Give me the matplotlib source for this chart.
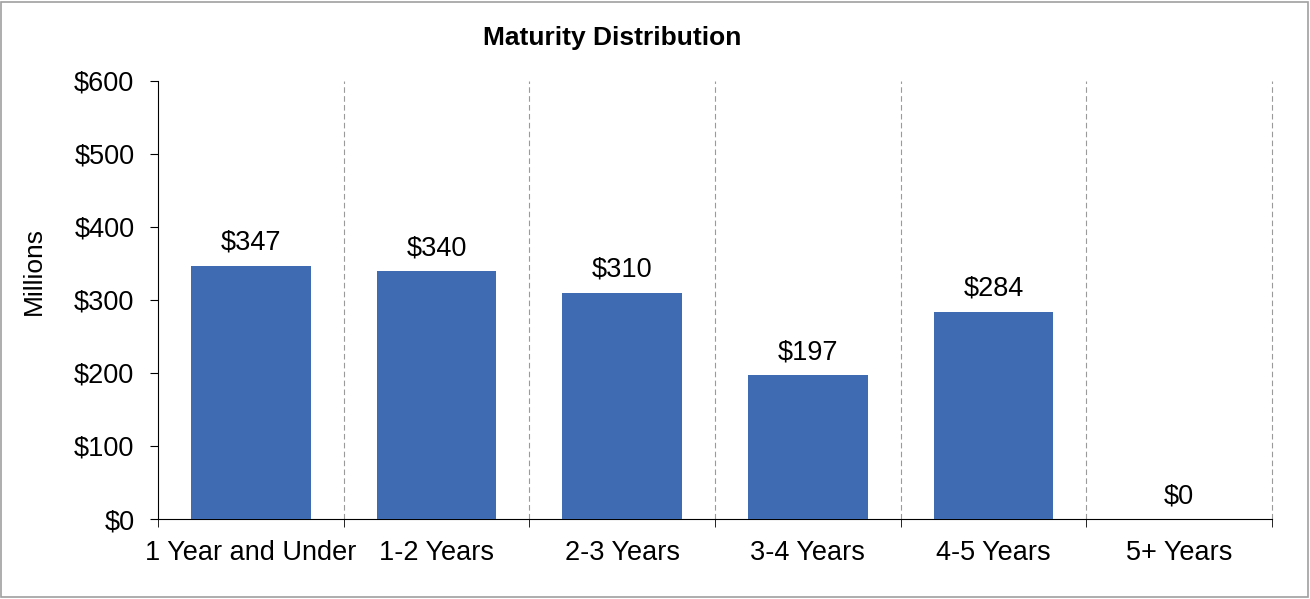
import matplotlib
matplotlib.use("Agg")
import matplotlib.pyplot as plt
from matplotlib.patches import Rectangle

categories = ["1 Year and Under", "1-2 Years", "2-3 Years", "3-4 Years", "4-5 Years", "5+ Years"]
values = [347, 340, 310, 197, 284, 0]
yticks = [0, 100, 200, 300, 400, 500, 600]

plt.rcParams['font.family'] = ['Liberation Sans', 'DejaVu Sans']

fig = plt.figure(figsize=(13.1, 5.99), dpi=100)
ax = fig.add_axes([158/1310, 1-519/599, (1272-158)/1310, (519-81)/599])

x = list(range(len(categories)))
ax.bar(x, values, width=0.645, color="#3F6BB3", zorder=3)
for xi, v in zip(x, values):
    ax.annotate(f"${v}", (xi, v), xytext=(0, 7), textcoords="offset points",
                ha="center", va="bottom", fontsize=19.5, color="black")

ax.set_xlim(-0.5, len(categories) - 0.5)
ax.set_ylim(0, 600)
ax.set_yticks(yticks)
ax.set_yticklabels([f"${t}" for t in yticks], fontsize=19.5)
ax.set_xticks(x)
ax.set_xticklabels(categories, fontsize=19.5)
ax.tick_params(axis='x', length=0, pad=15)
ax.set_xticks([i - 0.5 for i in range(len(categories) + 1)], minor=True)
ax.tick_params(axis='x', which='minor', length=6, direction='out', color='black')
ax.tick_params(axis='y', length=6, direction='out', pad=11)

for b in [i - 0.5 for i in range(1, len(categories) + 1)]:
    ax.axvline(b, color='#9a9a9a', linestyle=(0, (5, 3)), linewidth=0.8, zorder=1, clip_on=False)

for s in ['top', 'right']:
    ax.spines[s].set_visible(False)
ax.spines['left'].set_color('black')
ax.spines['bottom'].set_color('black')

ax.set_ylabel("Millions", fontsize=19)
ax.yaxis.set_label_coords(-0.1005, 0.566)
fig.text(612/1310, 1-38/599, "Maturity Distribution", ha="center", va="center",
         fontsize=19, fontweight="bold")

fig.patches.append(Rectangle((1/1310, 2/599), 1307/1310, 595/599, transform=fig.transFigure,
                             fill=False, edgecolor='#a0a0a0', linewidth=1.2))

fig.savefig("out.png", dpi=100)
